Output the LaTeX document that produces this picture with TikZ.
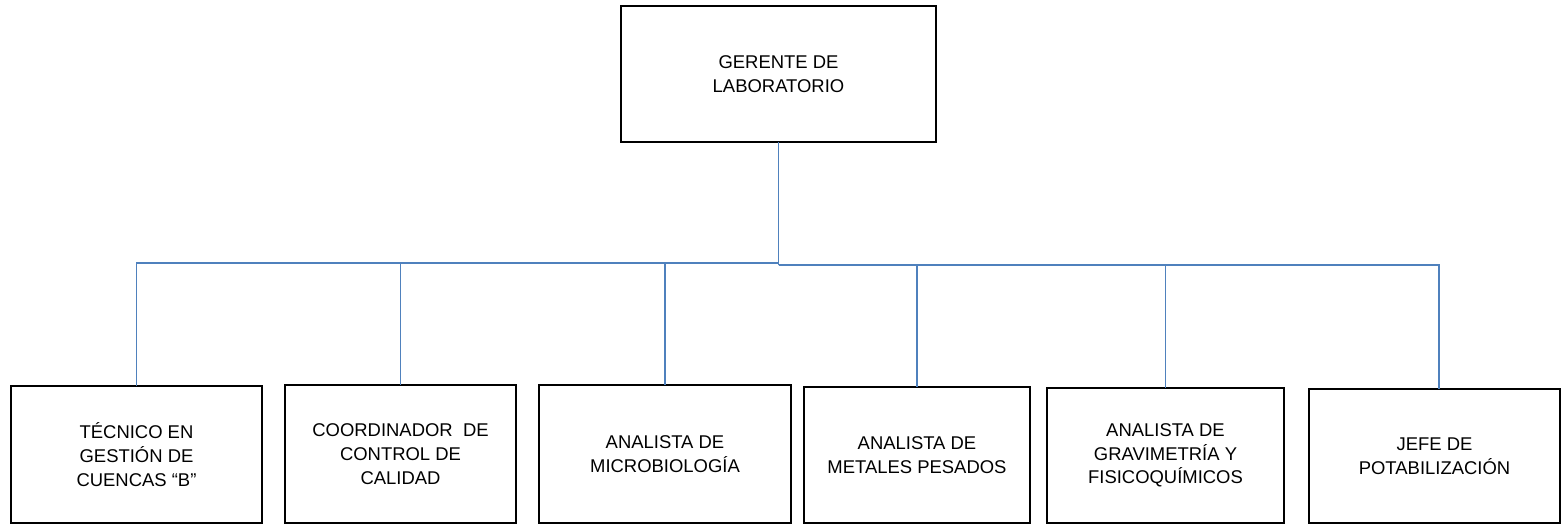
\documentclass[tikz,border=0pt]{standalone}
\usepackage{fontspec}
\setmainfont{Liberation Sans}
\usepackage{tikz}
\usetikzlibrary{calc}
\definecolor{linkblue}{RGB}{79,129,189}

\begin{document}
\begin{tikzpicture}[x=0.02cm,y=-0.02cm,
    box/.style={draw,line width=1.1pt,inner sep=0pt,outer sep=0pt,align=center,
        font=\fontsize{10.5}{13.5}\selectfont},
    link/.style={draw=linkblue,line width=0.9pt}]
            \useasboundingbox (0,0) rectangle (1563,525);
            \node[box,minimum width=6.3cm,minimum height=2.72cm] (gerente) at (778.5,74) {GERENTE DE\\LABORATORIO};
            \node[box,minimum width=5.02cm,minimum height=2.74cm] (tecnico) at (136.5,454.5) {TÉCNICO EN\\GESTIÓN DE\\CUENCAS “B”};
            \node[box,minimum width=4.62cm,minimum height=2.76cm] (coordinador) at (400.5,454) {COORDINADOR~ DE\\CONTROL DE\\CALIDAD};
            \node[box,minimum width=5.04cm,minimum height=2.76cm] (micro) at (665,454) {ANALISTA DE\\MICROBIOLOGÍA};
            \node[box,minimum width=4.52cm,minimum height=2.72cm] (metales) at (917,455) {ANALISTA DE\\METALES PESADOS};
            \node[box,minimum width=4.74cm,minimum height=2.7cm] (gravimetria) at (1165.5,455.5) {ANALISTA DE\\GRAVIMETRÍA Y\\FISICOQUÍMICOS};
            \node[box,minimum width=5.02cm,minimum height=2.68cm] (jefe) at (1434.5,456) {JEFE DE\\POTABILIZACIÓN};
            \coordinate (busl) at (778.5,263);
            \coordinate (busr) at (778.5,265);
            \draw[link] (gerente.south) -- (busr) -- (busl);
            \draw[link] (busl) -| (tecnico.north);
            \draw[link] (busl) -| (coordinador.north);
            \draw[link] (busl) -| (micro.north);
            \draw[link] (busr) -| (metales.north);
            \draw[link] (busr) -| (gravimetria.north);
            \draw[link] (busr) -| ($(jefe.north)+(4.5,0)$);
        \end{tikzpicture}
\end{document}
